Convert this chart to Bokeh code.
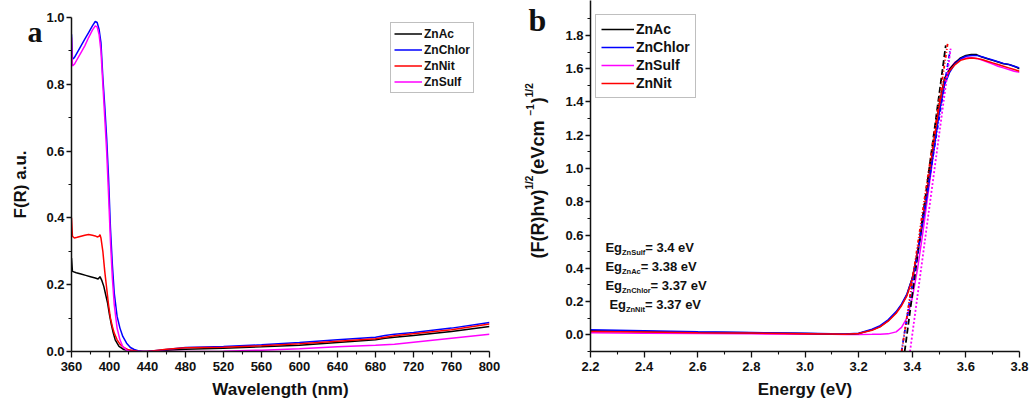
from bokeh.plotting import figure
from bokeh.models import Range1d, FixedTicker, Legend, LegendItem, Label, PrintfTickFormatter
from bokeh.layouts import row
from bokeh.embed import file_html
from bokeh.resources import INLINE

# ---------------- panel a: Kubelka-Munk F(R) vs wavelength ----------------
wl_znac = [360, 361, 365, 370, 375, 380, 385, 388, 390, 392, 394, 396, 398, 400, 402, 404, 406,
           410, 415, 420, 430, 440, 460, 480, 520, 560, 600, 640, 680, 690, 700, 720, 760, 800]
fr_znac = [0.28, 0.24, 0.236, 0.232, 0.228, 0.224, 0.22, 0.217, 0.224, 0.212, 0.195, 0.17, 0.145,
           0.11, 0.08, 0.055, 0.035, 0.015, 0.006, 0.003, 0.0, 0.0, 0.004, 0.007, 0.010, 0.014,
           0.019, 0.027, 0.035, 0.040, 0.043, 0.048, 0.060, 0.075]

wl_znchlor = [360, 361, 363, 366, 370, 374, 378, 382, 385, 387, 389, 391, 393, 395, 397, 399, 401,
              403, 405, 408, 411, 414, 418, 422, 426, 430, 435, 440, 460, 480, 520, 560, 600, 640,
              680, 690, 700, 720, 760, 800]
fr_znchlor = [0.95, 0.875, 0.88, 0.895, 0.915, 0.935, 0.955, 0.975, 0.988, 0.985, 0.965, 0.925,
              0.82, 0.735, 0.64, 0.52, 0.37, 0.26, 0.175, 0.105, 0.07, 0.045, 0.025, 0.012, 0.006,
              0.002, 0.0, 0.0, 0.006, 0.012, 0.015, 0.020, 0.027, 0.035, 0.043, 0.048, 0.052,
              0.057, 0.070, 0.087]

wl_znnit = [360, 361, 363, 366, 370, 374, 378, 382, 385, 387, 389, 390, 391, 393, 395, 397, 399,
            401, 403, 405, 408, 411, 415, 420, 430, 440, 460, 480, 520, 560, 600, 640, 680, 690,
            700, 720, 760, 800]
fr_znnit = [0.40, 0.345, 0.34, 0.342, 0.345, 0.348, 0.35, 0.348, 0.346, 0.343, 0.345, 0.35, 0.34,
            0.30, 0.24, 0.19, 0.14, 0.10, 0.075, 0.055, 0.035, 0.022, 0.012, 0.005, 0.001, 0.0,
            0.007, 0.011, 0.013, 0.017, 0.023, 0.031, 0.038, 0.043, 0.047, 0.053, 0.065, 0.082]

wl_znsulf = [360, 361, 363, 366, 370, 374, 378, 382, 385, 387, 389, 391, 393, 395, 397, 399, 401,
             403, 405, 408, 411, 414, 418, 422, 440, 480, 520, 560, 600, 640, 680, 700, 720, 760, 800]
fr_znsulf = [0.94, 0.855, 0.86, 0.875, 0.895, 0.915, 0.94, 0.962, 0.975, 0.972, 0.95, 0.90, 0.80,
             0.70, 0.60, 0.47, 0.33, 0.22, 0.14, 0.07, 0.035, 0.015, 0.004, 0.0, 0.0, 0.0, 0.001,
             0.004, 0.008, 0.014, 0.019, 0.022, 0.028, 0.040, 0.052]

# ---------------- panel b: Tauc plot ----------------
en_grid = [2.2, 2.4, 2.6, 2.8, 3.0, 3.1, 3.15, 3.2, 3.25, 3.28, 3.31, 3.34, 3.36, 3.38, 3.40, 3.42,
           3.44, 3.46, 3.48, 3.50, 3.52, 3.54, 3.56, 3.58, 3.60, 3.62, 3.64, 3.66, 3.68, 3.70,
           3.72, 3.74, 3.76, 3.78, 3.80]
tauc_znac = [0.025, 0.02, 0.015, 0.012, 0.008, 0.005, 0.004, 0.008, 0.03, 0.05, 0.085, 0.135,
             0.18, 0.24, 0.34, 0.50, 0.70, 0.92, 1.15, 1.38, 1.54, 1.60, 1.635, 1.665, 1.68, 1.685,
             1.685, 1.67, 1.66, 1.65, 1.64, 1.63, 1.625, 1.615, 1.60]
tauc_znchlor = [0.03, 0.024, 0.018, 0.014, 0.009, 0.006, 0.005, 0.01, 0.034, 0.055, 0.09, 0.14,
                0.185, 0.245, 0.34, 0.49, 0.68, 0.89, 1.11, 1.33, 1.50, 1.58, 1.63, 1.66, 1.675,
                1.68, 1.68, 1.672, 1.662, 1.652, 1.642, 1.632, 1.626, 1.615, 1.605]
tauc_znnit = [0.02, 0.017, 0.013, 0.011, 0.007, 0.005, 0.004, 0.008, 0.028, 0.048, 0.082, 0.13,
              0.175, 0.235, 0.335, 0.50, 0.70, 0.92, 1.15, 1.37, 1.53, 1.59, 1.625, 1.65, 1.66,
              1.665, 1.662, 1.655, 1.645, 1.635, 1.625, 1.615, 1.605, 1.595, 1.585]
tauc_znsulf = [0.012, 0.01, 0.008, 0.006, 0.004, 0.003, 0.002, 0.002, 0.003, 0.004, 0.006, 0.018,
               0.045, 0.10, 0.22, 0.40, 0.62, 0.86, 1.10, 1.34, 1.52, 1.60, 1.64, 1.655, 1.665,
               1.668, 1.662, 1.652, 1.64, 1.628, 1.615, 1.605, 1.595, 1.585, 1.578]

samples_b = ["ZnAc", "ZnChlor", "ZnSulf", "ZnNit"]
band_gap = [3.38, 3.37, 3.4, 3.37]          # eV, x-intercept of each linear fit
fit_slope = [12.0, 10.0, 12.0, 10.8]
fit_top = [1.74, 1.71, 1.72, 1.76]
eg_order = ["ZnSulf", "ZnAc", "ZnChlor", "ZnNit"]

wl_ticks = list(range(360, 801, 40))
fr_ticks = [0.0, 0.2, 0.4, 0.6, 0.8, 1.0]
en_ticks = [2.2, 2.4, 2.6, 2.8, 3.0, 3.2, 3.4, 3.6, 3.8]
tauc_ticks = [0.0, 0.2, 0.4, 0.6, 0.8, 1.0, 1.2, 1.4, 1.6, 1.8]

COLORS = {"ZnAc": "#000000", "ZnChlor": "#0000ff", "ZnNit": "#ff0000", "ZnSulf": "#ff00ff"}
FIT_DASH = {"ZnAc": "6 3", "ZnChlor": "4 2 1 2", "ZnSulf": "2 2", "ZnNit": "3 2 1 2 1 2"}
FONT = "Liberation Sans"
SERIF = "Liberation Serif"
INK = "#111111"

# all plots share a frame spanning page rows 0..351 (bottom border 57 px)
FRAME_H = 351
BOTTOM = 57

# advance widths (1/1000 em) of the bold sans face, used to chain text pieces
ADV = {" ": 278, "(": 333, ")": 333, "-": 333, ".": 278, "/": 278, "=": 584, "\u2212": 584,
       "A": 722, "C": 722, "E": 667, "F": 611, "N": 722, "R": 722, "S": 667, "V": 667, "Z": 611,
       "c": 556, "e": 556, "f": 333, "g": 611, "h": 611, "i": 278, "l": 278, "m": 889, "n": 611,
       "o": 611, "r": 389, "t": 333, "u": 611, "v": 556}


def text_px(s, size):
    return sum(ADV.get(ch, 556) for ch in s) * size / 1000.0


def style_axes(p, xt, xminor, yt, yminor, xfmt, yfmt):
    p.outline_line_color = None
    p.grid.visible = False
    p.background_fill_color = "white"
    p.border_fill_color = "white"
    p.xaxis.ticker = FixedTicker(ticks=xt, minor_ticks=xminor)
    p.yaxis.ticker = FixedTicker(ticks=yt, minor_ticks=yminor)
    p.xaxis.formatter = PrintfTickFormatter(format=xfmt)
    p.yaxis.formatter = PrintfTickFormatter(format=yfmt)
    for ax in (p.xaxis, p.yaxis):
        ax.axis_line_width = 1.5
        ax.axis_line_color = INK
        ax.major_tick_line_color = INK
        ax.minor_tick_line_color = INK
        ax.major_tick_line_width = 1.3
        ax.minor_tick_line_width = 1.1
        ax.major_tick_in = 0
        ax.minor_tick_in = 0
        ax.minor_tick_out = 3
        ax.major_label_text_font = FONT
        ax.major_label_text_font_style = "bold"
        ax.major_label_text_font_size = "13px"
        ax.major_label_text_color = INK
        ax.axis_label_text_font = FONT
        ax.axis_label_text_font_style = "bold"
        ax.axis_label_text_font_size = "17px"
        ax.axis_label_text_color = INK
    p.xaxis.major_tick_out = 6
    p.yaxis.major_tick_out = 5
    p.xaxis.major_label_standoff = 4
    p.yaxis.major_label_standoff = 2
    p.xaxis.axis_label_standoff = 6


def style_legend(lg, font_size, glyph_w, row_h, spacing, padding):
    lg.border_line_color = "#808080"
    lg.border_line_width = 1
    lg.background_fill_color = "white"
    lg.background_fill_alpha = 1.0
    lg.label_text_font = FONT
    lg.label_text_font_style = "bold"
    lg.label_text_font_size = font_size
    lg.label_text_color = INK
    lg.glyph_width = glyph_w
    lg.glyph_height = row_h
    lg.label_height = row_h
    lg.spacing = spacing
    lg.padding = padding
    lg.margin = 0
    lg.label_standoff = 2


def side_strip(w):
    """Blank strip holding a panel letter and a vertical axis title.
    Its frame covers page rows 0..351, so y is measured in page pixels from the top."""
    f = figure(width=w, height=408, x_range=Range1d(0, w), y_range=Range1d(FRAME_H, 0),
               x_axis_type=None, y_axis_type=None, title=None, output_backend="svg",
               toolbar_location=None, min_border=0, min_border_left=0, min_border_right=0,
               min_border_top=0, min_border_bottom=BOTTOM)
    f.outline_line_color = None
    f.background_fill_color = "white"
    f.border_fill_color = "white"
    return f


def txt(x, y, text, size, font=FONT, align="center", baseline="middle", angle=0):
    return Label(x=x, y=y, text=text, text_font=font, text_font_style="bold",
                 text_font_size=f"{size}px", text_color=INK, text_align=align,
                 text_baseline=baseline, angle=angle, angle_units="deg")


# ---------------- strip a: letter and y title ----------------
sa = side_strip(43)
sa.add_layout(txt(27, 31, "a", 30, font=SERIF, align="left", baseline="middle"))
sa.add_layout(txt(20, 184, "F(R) a.u.", 17, angle=90))

# ---------------- figure a ----------------
# the y axis line itself stops at 1.0
pa = figure(width=472, height=408, x_range=Range1d(360, 800), y_range=Range1d(0, 351 / 334),
            title=None, output_backend="svg", toolbar_location=None,
            min_border_left=24, min_border_right=26, min_border_top=0, min_border_bottom=BOTTOM)
style_axes(pa, wl_ticks, list(range(380, 800, 40)), fr_ticks, [0.1, 0.3, 0.5, 0.7, 0.9],
           "%d", "%.1f")
pa.yaxis.bounds = (0, 1.0)
pa.xaxis.axis_label = "Wavelength (nm)"

series_a = [("ZnAc", wl_znac, fr_znac), ("ZnChlor", wl_znchlor, fr_znchlor),
            ("ZnNit", wl_znnit, fr_znnit), ("ZnSulf", wl_znsulf, fr_znsulf)]
items_a = []
for name, xs, ys in series_a:
    r = pa.line(xs, ys, line_color=COLORS[name], line_width=1.5)
    items_a.append(LegendItem(label=name, renderers=[r]))
lg_a = Legend(items=items_a, location=(319, 258))
style_legend(lg_a, "12px", 28, 15, 1, 3)
pa.add_layout(lg_a)

# ---------------- strip b: letter and y title with superscripts ----------------
sb = side_strip(47)
sb.add_layout(txt(13, 19, "b", 32, font=SERIF, align="left", baseline="middle"))
ylabel_pieces = [("(F(R)hv)", 18, False), ("1/2", 10, True), (" (eVcm", 18, False),
                 ("\u22121", 10, True), (")", 18, False), ("1/2", 10, True)]
cy = 258
for piece, size, sup in ylabel_pieces:
    w = text_px(piece, size)
    sb.add_layout(txt(14 if sup else 22, cy - w / 2, piece, size, angle=90))
    cy -= w + (1 if sup else 0)

# ---------------- figure b ----------------
pb = figure(width=467, height=408, x_range=Range1d(2.2, 3.8), y_range=Range1d(-0.1, 2.01),
            title=None, output_backend="svg", toolbar_location=None,
            min_border_left=26, min_border_right=10, min_border_top=0, min_border_bottom=BOTTOM)
style_axes(pb, en_ticks, [2.3, 2.5, 2.7, 2.9, 3.1, 3.3, 3.5, 3.7], tauc_ticks,
           [-0.1, 0.1, 0.3, 0.5, 0.7, 0.9, 1.1, 1.3, 1.5, 1.7, 1.9], "%.1f", "%.1f")
pb.xaxis.axis_label = "Energy (eV)"

tauc = {"ZnAc": tauc_znac, "ZnChlor": tauc_znchlor, "ZnSulf": tauc_znsulf, "ZnNit": tauc_znnit}
items_b = {}
for name in ["ZnSulf", "ZnAc", "ZnChlor", "ZnNit"]:
    items_b[name] = pb.line(en_grid, tauc[name], line_color=COLORS[name], line_width=1.5)

# linear fits of the absorption edge, extrapolated down to the band gap
for name, eg, k, top in zip(samples_b, band_gap, fit_slope, fit_top):
    y0 = -0.1
    pb.line([eg + y0 / k, eg + top / k], [y0, top], line_color=COLORS[name],
            line_width=1.8, line_dash=FIT_DASH[name])

lg_b = Legend(items=[LegendItem(label=n, renderers=[items_b[n]]) for n in samples_b],
              location=(5, 253))
style_legend(lg_b, "14px", 33, 18, 0, 5)
pb.add_layout(lg_b)

# frame of panel b in page pixels: x 588..1019, y 0..351
KXB = 431 / 1.6
KYB = FRAME_H / 2.11


def bx(px):
    return 2.2 + (px - 588) / KXB


def by(py):
    return -0.1 + (FRAME_H - py) / KYB


# band-gap annotations: Eg with the sample as subscript
MAIN, SUB = 13, 7.5
eg_of = dict(zip(samples_b, band_gap))
for i, name in enumerate(eg_order):
    cy = 247 + 19 * i
    cx = 607 if name == "ZnNit" else 603
    for piece, size, dy in [("Eg", MAIN, 0), (name, SUB, 5), (f"= {eg_of[name]:g} eV", MAIN, 0)]:
        pb.add_layout(Label(x=bx(cx), y=by(cy + dy), text=piece, text_font=FONT,
                            text_font_style="bold", text_font_size=f"{size}px",
                            text_color=INK, text_baseline="middle", text_align="left"))
        cx += text_px(piece, size)

layout = row(sa, pa, sb, pb)
open("out.html", "w").write(file_html(layout, INLINE))
